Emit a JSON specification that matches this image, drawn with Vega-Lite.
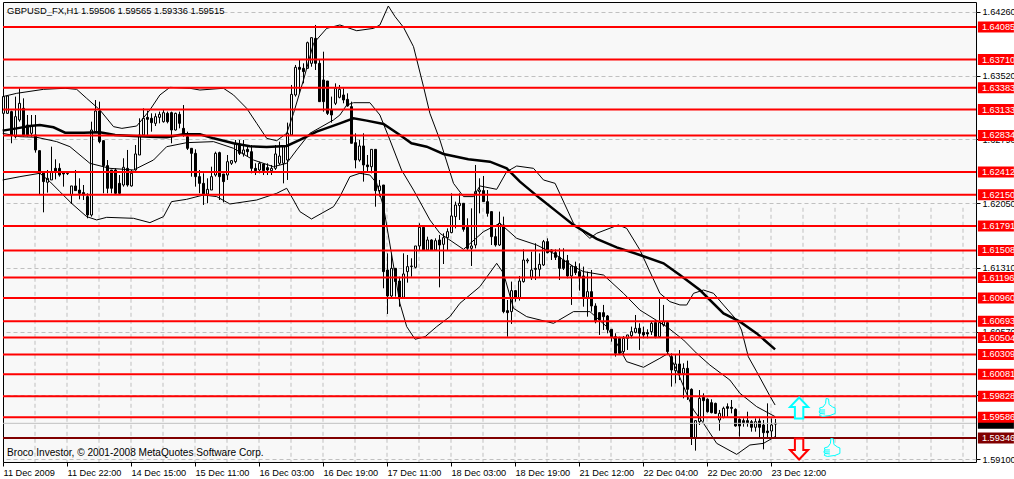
{
  "$schema": "https://vega.github.io/schema/vega-lite/v6.json",
  "width": 973,
  "height": 460,
  "autosize": "none",
  "padding": {"left": 3, "top": 2, "right": 38, "bottom": 17},
  "background": "#ffffff",
  "view": {"fill": "#f8f8f8", "stroke": "#000000", "strokeWidth": 1},
  "config": {
    "font": "Liberation Sans",
    "scale": {"continuousPadding": 0},
    "axis": {"title": null, "domain": false, "tickColor": "#000000", "tickSize": 4, "labelColor": "#000000", "labelFontSize": 9.2, "labelFont": "Liberation Sans"}
  },
  "datasets": {
    "candles": [
      {"i":0,"o":1.63089,"h":1.63301,"l":1.63070,"c":1.63282},
      {"i":1,"o":1.63089,"h":1.63301,"l":1.63082,"c":1.63289},
      {"i":2,"o":1.63109,"h":1.63120,"l":1.62744,"c":1.62840},
      {"i":3,"o":1.62820,"h":1.63282,"l":1.62801,"c":1.63051},
      {"i":4,"o":1.63013,"h":1.63378,"l":1.62993,"c":1.63205},
      {"i":5,"o":1.63147,"h":1.63262,"l":1.62820,"c":1.62840},
      {"i":6,"o":1.62955,"h":1.63070,"l":1.62820,"c":1.62840},
      {"i":7,"o":1.62859,"h":1.63070,"l":1.62820,"c":1.62943},
      {"i":8,"o":1.62840,"h":1.63070,"l":1.62636,"c":1.62667},
      {"i":9,"o":1.62659,"h":1.62659,"l":1.62148,"c":1.62398},
      {"i":10,"o":1.62417,"h":1.62417,"l":1.61948,"c":1.62302},
      {"i":11,"o":1.62294,"h":1.62436,"l":1.62175,"c":1.62340},
      {"i":12,"o":1.62321,"h":1.62705,"l":1.62321,"c":1.62417},
      {"i":13,"o":1.62455,"h":1.62559,"l":1.62328,"c":1.62417},
      {"i":14,"o":1.62455,"h":1.62513,"l":1.62359,"c":1.62378},
      {"i":15,"o":1.62405,"h":1.62417,"l":1.62244,"c":1.62390},
      {"i":16,"o":1.62398,"h":1.62405,"l":1.62378,"c":1.62394},
      {"i":17,"o":1.62148,"h":1.62252,"l":1.62044,"c":1.62252},
      {"i":18,"o":1.62252,"h":1.62436,"l":1.62198,"c":1.62198},
      {"i":19,"o":1.62205,"h":1.62340,"l":1.62098,"c":1.62167},
      {"i":20,"o":1.62175,"h":1.62263,"l":1.62090,"c":1.62148},
      {"i":21,"o":1.62129,"h":1.62167,"l":1.61879,"c":1.61917},
      {"i":22,"o":1.61917,"h":1.62993,"l":1.61898,"c":1.62897},
      {"i":23,"o":1.62878,"h":1.63243,"l":1.62878,"c":1.63116},
      {"i":24,"o":1.63116,"h":1.63224,"l":1.62744,"c":1.62763},
      {"i":25,"o":1.62774,"h":1.62774,"l":1.62167,"c":1.62486},
      {"i":26,"o":1.62486,"h":1.62551,"l":1.62167,"c":1.62225},
      {"i":27,"o":1.62436,"h":1.62436,"l":1.62167,"c":1.62225},
      {"i":28,"o":1.62436,"h":1.62455,"l":1.62159,"c":1.62167},
      {"i":29,"o":1.62282,"h":1.62378,"l":1.62159,"c":1.62167},
      {"i":30,"o":1.62263,"h":1.62571,"l":1.62244,"c":1.62467},
      {"i":31,"o":1.62455,"h":1.62667,"l":1.62244,"c":1.62263},
      {"i":32,"o":1.62252,"h":1.62436,"l":1.62244,"c":1.62398},
      {"i":33,"o":1.62436,"h":1.62724,"l":1.62428,"c":1.62621},
      {"i":34,"o":1.62609,"h":1.63032,"l":1.62609,"c":1.62840},
      {"i":35,"o":1.62840,"h":1.63147,"l":1.62820,"c":1.63032},
      {"i":36,"o":1.63043,"h":1.63120,"l":1.62840,"c":1.63020},
      {"i":37,"o":1.63032,"h":1.63089,"l":1.62878,"c":1.62982},
      {"i":38,"o":1.62974,"h":1.63089,"l":1.62943,"c":1.63051},
      {"i":39,"o":1.63043,"h":1.63109,"l":1.62974,"c":1.63078},
      {"i":40,"o":1.62993,"h":1.63128,"l":1.62982,"c":1.63097},
      {"i":41,"o":1.63089,"h":1.63109,"l":1.62974,"c":1.62993},
      {"i":42,"o":1.63097,"h":1.63109,"l":1.62744,"c":1.62897},
      {"i":43,"o":1.62897,"h":1.63097,"l":1.62890,"c":1.63089},
      {"i":44,"o":1.63078,"h":1.63109,"l":1.62916,"c":1.62974},
      {"i":45,"o":1.62916,"h":1.63185,"l":1.62820,"c":1.62840},
      {"i":46,"o":1.62820,"h":1.62878,"l":1.62667,"c":1.62686},
      {"i":47,"o":1.62686,"h":1.62686,"l":1.62359,"c":1.62628},
      {"i":48,"o":1.62628,"h":1.62674,"l":1.62244,"c":1.62359},
      {"i":49,"o":1.62359,"h":1.62436,"l":1.62167,"c":1.62282},
      {"i":50,"o":1.62282,"h":1.62398,"l":1.62033,"c":1.62159},
      {"i":51,"o":1.62159,"h":1.62340,"l":1.62052,"c":1.62213},
      {"i":52,"o":1.62205,"h":1.62474,"l":1.62205,"c":1.62359},
      {"i":53,"o":1.62378,"h":1.62647,"l":1.62359,"c":1.62628},
      {"i":54,"o":1.62636,"h":1.62647,"l":1.62090,"c":1.62359},
      {"i":55,"o":1.62390,"h":1.62390,"l":1.62063,"c":1.62302},
      {"i":56,"o":1.62378,"h":1.62609,"l":1.62321,"c":1.62532},
      {"i":57,"o":1.62513,"h":1.62551,"l":1.62494,"c":1.62544},
      {"i":58,"o":1.62532,"h":1.62782,"l":1.62513,"c":1.62736},
      {"i":59,"o":1.62736,"h":1.62782,"l":1.62609,"c":1.62628},
      {"i":60,"o":1.62621,"h":1.62782,"l":1.62590,"c":1.62667},
      {"i":61,"o":1.62674,"h":1.62724,"l":1.62590,"c":1.62647},
      {"i":62,"o":1.62647,"h":1.62724,"l":1.62398,"c":1.62455},
      {"i":63,"o":1.62455,"h":1.62513,"l":1.62378,"c":1.62428},
      {"i":64,"o":1.62436,"h":1.62532,"l":1.62398,"c":1.62513},
      {"i":65,"o":1.62505,"h":1.62513,"l":1.62378,"c":1.62428},
      {"i":66,"o":1.62463,"h":1.62513,"l":1.62378,"c":1.62436},
      {"i":67,"o":1.62428,"h":1.62494,"l":1.62378,"c":1.62455},
      {"i":68,"o":1.62455,"h":1.62724,"l":1.62436,"c":1.62621},
      {"i":69,"o":1.62513,"h":1.62763,"l":1.62494,"c":1.62597},
      {"i":70,"o":1.62513,"h":1.62705,"l":1.62282,"c":1.62705},
      {"i":71,"o":1.62551,"h":1.62982,"l":1.62321,"c":1.62859},
      {"i":72,"o":1.62840,"h":1.63416,"l":1.62840,"c":1.63308},
      {"i":73,"o":1.63301,"h":1.63647,"l":1.63282,"c":1.63620},
      {"i":74,"o":1.63620,"h":1.63704,"l":1.63320,"c":1.63597},
      {"i":75,"o":1.63608,"h":1.63666,"l":1.63435,"c":1.63570},
      {"i":76,"o":1.63608,"h":1.63916,"l":1.63608,"c":1.63904},
      {"i":77,"o":1.63666,"h":1.63962,"l":1.63627,"c":1.63962},
      {"i":78,"o":1.63954,"h":1.64108,"l":1.63589,"c":1.63666},
      {"i":79,"o":1.63666,"h":1.63704,"l":1.63224,"c":1.63224},
      {"i":80,"o":1.63474,"h":1.63800,"l":1.63109,"c":1.63224},
      {"i":81,"o":1.63462,"h":1.63462,"l":1.63070,"c":1.63089},
      {"i":82,"o":1.63128,"h":1.63282,"l":1.62982,"c":1.63070},
      {"i":83,"o":1.63205,"h":1.63435,"l":1.63185,"c":1.63378},
      {"i":84,"o":1.63274,"h":1.63416,"l":1.63262,"c":1.63366},
      {"i":85,"o":1.63301,"h":1.63378,"l":1.63205,"c":1.63243},
      {"i":86,"o":1.63251,"h":1.63320,"l":1.63166,"c":1.63174},
      {"i":87,"o":1.63166,"h":1.63224,"l":1.62744,"c":1.62744},
      {"i":88,"o":1.62751,"h":1.62859,"l":1.62455,"c":1.62551},
      {"i":89,"o":1.62551,"h":1.62782,"l":1.62532,"c":1.62713},
      {"i":90,"o":1.62713,"h":1.62859,"l":1.62302,"c":1.62494},
      {"i":91,"o":1.62494,"h":1.62609,"l":1.62417,"c":1.62474},
      {"i":92,"o":1.62474,"h":1.62674,"l":1.62398,"c":1.62674},
      {"i":93,"o":1.62674,"h":1.62674,"l":1.62013,"c":1.62198},
      {"i":94,"o":1.62198,"h":1.62321,"l":1.62129,"c":1.62252},
      {"i":95,"o":1.62263,"h":1.62263,"l":1.61072,"c":1.61264},
      {"i":96,"o":1.61283,"h":1.61475,"l":1.60776,"c":1.60983},
      {"i":97,"o":1.60983,"h":1.61475,"l":1.60968,"c":1.61302},
      {"i":98,"o":1.61302,"h":1.61302,"l":1.60976,"c":1.61149},
      {"i":99,"o":1.61156,"h":1.61206,"l":1.60860,"c":1.60968},
      {"i":100,"o":1.60968,"h":1.61475,"l":1.60968,"c":1.61237},
      {"i":101,"o":1.61264,"h":1.61456,"l":1.61137,"c":1.61322},
      {"i":102,"o":1.61322,"h":1.61418,"l":1.61206,"c":1.61329},
      {"i":103,"o":1.61314,"h":1.61560,"l":1.61302,"c":1.61560},
      {"i":104,"o":1.61560,"h":1.61821,"l":1.61514,"c":1.61775},
      {"i":105,"o":1.61775,"h":1.61775,"l":1.61514,"c":1.61514},
      {"i":106,"o":1.61514,"h":1.61667,"l":1.61506,"c":1.61629},
      {"i":107,"o":1.61629,"h":1.61637,"l":1.61506,"c":1.61514},
      {"i":108,"o":1.61514,"h":1.61648,"l":1.61506,"c":1.61621},
      {"i":109,"o":1.61629,"h":1.61687,"l":1.61083,"c":1.61571},
      {"i":110,"o":1.61579,"h":1.61706,"l":1.61352,"c":1.61656},
      {"i":111,"o":1.61656,"h":1.61763,"l":1.61514,"c":1.61725},
      {"i":112,"o":1.61714,"h":1.62167,"l":1.61706,"c":1.61906},
      {"i":113,"o":1.61898,"h":1.62071,"l":1.61763,"c":1.62032},
      {"i":114,"o":1.62025,"h":1.62167,"l":1.61860,"c":1.62052},
      {"i":115,"o":1.62052,"h":1.62052,"l":1.61725,"c":1.61752},
      {"i":116,"o":1.61775,"h":1.61879,"l":1.61514,"c":1.61533},
      {"i":117,"o":1.61533,"h":1.61994,"l":1.61329,"c":1.61560},
      {"i":118,"o":1.61571,"h":1.62494,"l":1.61533,"c":1.62186},
      {"i":119,"o":1.62186,"h":1.62340,"l":1.61936,"c":1.62205},
      {"i":120,"o":1.62198,"h":1.62367,"l":1.62071,"c":1.62071},
      {"i":121,"o":1.62071,"h":1.62205,"l":1.61898,"c":1.61936},
      {"i":122,"o":1.61956,"h":1.61956,"l":1.61571,"c":1.61667},
      {"i":123,"o":1.61667,"h":1.61763,"l":1.61552,"c":1.61571},
      {"i":124,"o":1.61571,"h":1.61956,"l":1.61560,"c":1.61821},
      {"i":125,"o":1.61802,"h":1.61898,"l":1.60784,"c":1.60803},
      {"i":126,"o":1.60814,"h":1.60937,"l":1.60514,"c":1.60791},
      {"i":127,"o":1.60803,"h":1.61149,"l":1.60661,"c":1.61045},
      {"i":128,"o":1.61045,"h":1.61053,"l":1.60918,"c":1.60956},
      {"i":129,"o":1.60956,"h":1.61214,"l":1.60930,"c":1.61156},
      {"i":130,"o":1.61149,"h":1.61521,"l":1.61137,"c":1.61398},
      {"i":131,"o":1.61387,"h":1.61418,"l":1.61360,"c":1.61398},
      {"i":132,"o":1.61199,"h":1.61494,"l":1.61168,"c":1.61283},
      {"i":133,"o":1.61302,"h":1.61591,"l":1.61168,"c":1.61291},
      {"i":134,"o":1.61291,"h":1.61475,"l":1.61206,"c":1.61348},
      {"i":135,"o":1.61341,"h":1.61629,"l":1.61329,"c":1.61610},
      {"i":136,"o":1.61610,"h":1.61648,"l":1.61475,"c":1.61483},
      {"i":137,"o":1.61514,"h":1.61521,"l":1.61398,"c":1.61494},
      {"i":138,"o":1.61483,"h":1.61521,"l":1.61398,"c":1.61429},
      {"i":139,"o":1.61429,"h":1.61533,"l":1.61168,"c":1.61302},
      {"i":140,"o":1.61398,"h":1.61533,"l":1.61283,"c":1.61302},
      {"i":141,"o":1.61391,"h":1.61456,"l":1.61187,"c":1.61214},
      {"i":142,"o":1.61214,"h":1.61341,"l":1.60880,"c":1.61329},
      {"i":143,"o":1.61322,"h":1.61379,"l":1.61225,"c":1.61252},
      {"i":144,"o":1.61264,"h":1.61360,"l":1.61045,"c":1.61206},
      {"i":145,"o":1.61214,"h":1.61322,"l":1.60860,"c":1.60976},
      {"i":146,"o":1.60968,"h":1.61264,"l":1.60745,"c":1.61033},
      {"i":147,"o":1.61033,"h":1.61283,"l":1.60803,"c":1.60868},
      {"i":148,"o":1.60868,"h":1.60899,"l":1.60668,"c":1.60687},
      {"i":149,"o":1.60791,"h":1.60791,"l":1.60534,"c":1.60707},
      {"i":150,"o":1.60791,"h":1.60880,"l":1.60591,"c":1.60745},
      {"i":151,"o":1.60753,"h":1.60764,"l":1.60553,"c":1.60599},
      {"i":152,"o":1.60599,"h":1.60599,"l":1.60457,"c":1.60514},
      {"i":153,"o":1.60514,"h":1.60553,"l":1.60284,"c":1.60322},
      {"i":154,"o":1.60495,"h":1.60514,"l":1.60303,"c":1.60322},
      {"i":155,"o":1.60342,"h":1.60522,"l":1.60303,"c":1.60495},
      {"i":156,"o":1.60495,"h":1.60534,"l":1.60361,"c":1.60534},
      {"i":157,"o":1.60526,"h":1.60630,"l":1.60495,"c":1.60572},
      {"i":158,"o":1.60564,"h":1.60764,"l":1.60553,"c":1.60611},
      {"i":159,"o":1.60611,"h":1.60668,"l":1.60361,"c":1.60553},
      {"i":160,"o":1.60564,"h":1.60630,"l":1.60495,"c":1.60534},
      {"i":161,"o":1.60561,"h":1.60599,"l":1.60495,"c":1.60545},
      {"i":162,"o":1.60572,"h":1.60687,"l":1.60534,"c":1.60668},
      {"i":163,"o":1.60676,"h":1.60707,"l":1.60495,"c":1.60514},
      {"i":164,"o":1.60514,"h":1.60956,"l":1.60514,"c":1.60676},
      {"i":165,"o":1.60649,"h":1.60880,"l":1.60630,"c":1.60687},
      {"i":166,"o":1.60676,"h":1.60687,"l":1.60303,"c":1.60342},
      {"i":167,"o":1.60284,"h":1.60322,"l":1.59938,"c":1.60130},
      {"i":168,"o":1.60122,"h":1.60303,"l":1.59976,"c":1.60199},
      {"i":169,"o":1.60199,"h":1.60360,"l":1.60014,"c":1.60084},
      {"i":170,"o":1.60091,"h":1.60207,"l":1.59803,"c":1.60149},
      {"i":171,"o":1.60149,"h":1.60237,"l":1.59784,"c":1.59907},
      {"i":172,"o":1.59907,"h":1.59918,"l":1.59265,"c":1.59350},
      {"i":173,"o":1.59350,"h":1.59553,"l":1.59200,"c":1.59546},
      {"i":174,"o":1.59534,"h":1.59899,"l":1.59496,"c":1.59803},
      {"i":175,"o":1.59815,"h":1.59861,"l":1.59534,"c":1.59776},
      {"i":176,"o":1.59792,"h":1.59803,"l":1.59638,"c":1.59649},
      {"i":177,"o":1.59753,"h":1.59792,"l":1.59630,"c":1.59638},
      {"i":178,"o":1.59745,"h":1.59753,"l":1.59622,"c":1.59630},
      {"i":179,"o":1.59553,"h":1.59669,"l":1.59430,"c":1.59630},
      {"i":180,"o":1.59584,"h":1.59707,"l":1.59572,"c":1.59688},
      {"i":181,"o":1.59707,"h":1.59745,"l":1.59592,"c":1.59688},
      {"i":182,"o":1.59699,"h":1.59784,"l":1.59630,"c":1.59688},
      {"i":183,"o":1.59676,"h":1.59688,"l":1.59476,"c":1.59484},
      {"i":184,"o":1.59561,"h":1.59572,"l":1.59361,"c":1.59484},
      {"i":185,"o":1.59546,"h":1.59572,"l":1.59476,"c":1.59522},
      {"i":186,"o":1.59546,"h":1.59649,"l":1.59476,"c":1.59522},
      {"i":187,"o":1.59534,"h":1.59553,"l":1.59419,"c":1.59469},
      {"i":188,"o":1.59469,"h":1.59572,"l":1.59419,"c":1.59534},
      {"i":189,"o":1.59542,"h":1.59572,"l":1.59353,"c":1.59469},
      {"i":190,"o":1.59496,"h":1.59553,"l":1.59215,"c":1.59407},
      {"i":191,"o":1.59426,"h":1.59745,"l":1.59342,"c":1.59407},
      {"i":192,"o":1.59426,"h":1.59572,"l":1.59342,"c":1.59496},
      {"i":193,"o":1.59506,"h":1.59565,"l":1.59336,"c":1.59515}
    ],
    "ma": [
      {"i":-0.2,"p":1.62890},{"i":3.3,"p":1.62916},{"i":6.6,"p":1.62943},{"i":9.1,"p":1.62955},{"i":12.5,"p":1.62928},
      {"i":15.4,"p":1.62866},{"i":20,"p":1.62866},{"i":24.1,"p":1.62870},{"i":27.9,"p":1.62840},{"i":32.5,"p":1.62828},
      {"i":36.6,"p":1.62820},{"i":40.8,"p":1.62813},{"i":45,"p":1.62847},{"i":49.1,"p":1.62847},{"i":52.5,"p":1.62801},
      {"i":57.5,"p":1.62744},{"i":61.6,"p":1.62709},{"i":65.8,"p":1.62701},{"i":70.8,"p":1.62713},{"i":74.1,"p":1.62782},
      {"i":78.3,"p":1.62878},{"i":84.1,"p":1.62974},{"i":87.5,"p":1.63032},{"i":90.8,"p":1.63005},{"i":95,"p":1.62966},
      {"i":99.1,"p":1.62840},{"i":102,"p":1.62744},{"i":105.8,"p":1.62705},{"i":110,"p":1.62621},{"i":116.2,"p":1.62559},
      {"i":121.6,"p":1.62532},{"i":125.8,"p":1.62455},{"i":129.1,"p":1.62302},{"i":134.1,"p":1.62109},{"i":138.3,"p":1.61956},
      {"i":142.5,"p":1.61802},{"i":148.3,"p":1.61641},{"i":153.3,"p":1.61544},{"i":159.1,"p":1.61456},{"i":165,"p":1.61360},
      {"i":169.1,"p":1.61225},{"i":174.1,"p":1.61052},{"i":180,"p":1.60783},{"i":184.1,"p":1.60687},{"i":188.3,"p":1.60552},
      {"i":192.9,"p":1.60368}
    ],
    "bands": [
      {"s":"upper","i":-0.2,"p":1.63282},{"s":"upper","i":3.3,"p":1.63320},{"s":"upper","i":10,"p":1.63366},{"s":"upper","i":15.4,"p":1.63378},
      {"s":"upper","i":18.3,"p":1.63366},{"s":"upper","i":20.8,"p":1.63262},{"s":"upper","i":24.1,"p":1.63128},{"s":"upper","i":27.5,"p":1.62936},
      {"s":"upper","i":29.6,"p":1.62916},{"s":"upper","i":33.3,"p":1.62943},{"s":"upper","i":36.6,"p":1.63128},{"s":"upper","i":39.1,"p":1.63301},
      {"s":"upper","i":41.6,"p":1.63389},{"s":"upper","i":46.6,"p":1.63378},{"s":"upper","i":49.1,"p":1.63358},{"s":"upper","i":55,"p":1.63378},
      {"s":"upper","i":57.5,"p":1.63301},{"s":"upper","i":60.8,"p":1.63147},{"s":"upper","i":63.3,"p":1.62974},{"s":"upper","i":65.8,"p":1.62801},
      {"s":"upper","i":68.3,"p":1.62774},{"s":"upper","i":70.8,"p":1.62859},{"s":"upper","i":72.5,"p":1.63089},{"s":"upper","i":75,"p":1.63474},
      {"s":"upper","i":77.5,"p":1.63896},{"s":"upper","i":80.8,"p":1.64069},{"s":"upper","i":84.1,"p":1.64108},{"s":"upper","i":88.3,"p":1.64042},
      {"s":"upper","i":92.5,"p":1.64069},{"s":"upper","i":94.1,"p":1.64108},{"s":"upper","i":96.2,"p":1.64327},{"s":"upper","i":97.9,"p":1.64204},
      {"s":"upper","i":100,"p":1.64081},{"s":"upper","i":102.5,"p":1.63858},{"s":"upper","i":105,"p":1.63397},{"s":"upper","i":106.6,"p":1.63089},
      {"s":"upper","i":109.1,"p":1.62782},{"s":"upper","i":112.5,"p":1.62282},{"s":"upper","i":115,"p":1.62129},{"s":"upper","i":117.5,"p":1.62129},
      {"s":"upper","i":119.1,"p":1.62252},{"s":"upper","i":123.3,"p":1.62213},{"s":"upper","i":125.8,"p":1.62417},{"s":"upper","i":128.3,"p":1.62482},
      {"s":"upper","i":132.5,"p":1.62455},{"s":"upper","i":135,"p":1.62321},{"s":"upper","i":137.9,"p":1.62282},{"s":"upper","i":142.5,"p":1.61821},
      {"s":"upper","i":146.6,"p":1.61648},{"s":"upper","i":148.3,"p":1.61706},{"s":"upper","i":153.7,"p":1.61802},{"s":"upper","i":155.8,"p":1.61763},
      {"s":"upper","i":159.1,"p":1.61514},{"s":"upper","i":164.1,"p":1.61014},{"s":"upper","i":166.6,"p":1.60918},{"s":"upper","i":169.1,"p":1.60880},
      {"s":"upper","i":170.8,"p":1.60879},{"s":"upper","i":172.5,"p":1.61014},{"s":"upper","i":175,"p":1.61052},{"s":"upper","i":177.5,"p":1.61014},
      {"s":"upper","i":180,"p":1.60879},{"s":"upper","i":183.3,"p":1.60706},{"s":"upper","i":184.5,"p":1.60591},{"s":"upper","i":186.2,"p":1.60283},
      {"s":"upper","i":188.3,"p":1.60110},{"s":"upper","i":191.6,"p":1.59830},{"s":"upper","i":192.9,"p":1.59726},
      {"s":"middle","i":-0.2,"p":1.62859},{"s":"middle","i":4.1,"p":1.62820},{"s":"middle","i":8.3,"p":1.62813},{"s":"middle","i":13.3,"p":1.62763},
      {"s":"middle","i":16.6,"p":1.62705},{"s":"middle","i":21.6,"p":1.62513},{"s":"middle","i":26.6,"p":1.62455},{"s":"middle","i":32.5,"p":1.62436},
      {"s":"middle","i":37.5,"p":1.62551},{"s":"middle","i":40.8,"p":1.62705},{"s":"middle","i":45.8,"p":1.62751},{"s":"middle","i":52.5,"p":1.62763},
      {"s":"middle","i":57.5,"p":1.62686},{"s":"middle","i":62.5,"p":1.62551},{"s":"middle","i":67.5,"p":1.62474},{"s":"middle","i":70.8,"p":1.62513},
      {"s":"middle","i":73.3,"p":1.62667},{"s":"middle","i":76.6,"p":1.62859},{"s":"middle","i":82.5,"p":1.63013},{"s":"middle","i":84.1,"p":1.63070},
      {"s":"middle","i":85.8,"p":1.63185},{"s":"middle","i":87.5,"p":1.63212},{"s":"middle","i":91.6,"p":1.63212},{"s":"middle","i":94.1,"p":1.63070},
      {"s":"middle","i":96.6,"p":1.62782},{"s":"middle","i":99.5,"p":1.62436},{"s":"middle","i":102.5,"p":1.62205},{"s":"middle","i":106.6,"p":1.61860},
      {"s":"middle","i":109.1,"p":1.61706},{"s":"middle","i":115,"p":1.61521},{"s":"middle","i":120,"p":1.61725},{"s":"middle","i":124.1,"p":1.61821},
      {"s":"middle","i":128.3,"p":1.61648},{"s":"middle","i":133.3,"p":1.61571},{"s":"middle","i":137.5,"p":1.61475},{"s":"middle","i":142.5,"p":1.61322},
      {"s":"middle","i":145,"p":1.61264},{"s":"middle","i":150,"p":1.61225},{"s":"middle","i":155,"p":1.61014},{"s":"middle","i":159.1,"p":1.60821},
      {"s":"middle","i":165.8,"p":1.60629},{"s":"middle","i":170,"p":1.60476},{"s":"middle","i":173.3,"p":1.60322},{"s":"middle","i":176.6,"p":1.60187},
      {"s":"middle","i":181.6,"p":1.60014},{"s":"middle","i":184.1,"p":1.59861},{"s":"middle","i":188.3,"p":1.59707},{"s":"middle","i":192.9,"p":1.59592},
      {"s":"lower","i":-0.2,"p":1.62321},{"s":"lower","i":4.1,"p":1.62359},{"s":"lower","i":9.1,"p":1.62398},{"s":"lower","i":11.6,"p":1.62302},
      {"s":"lower","i":14.1,"p":1.62186},{"s":"lower","i":17,"p":1.62052},{"s":"lower","i":20.8,"p":1.61898},{"s":"lower","i":23.3,"p":1.61860},
      {"s":"lower","i":25.8,"p":1.61890},{"s":"lower","i":32.5,"p":1.61879},{"s":"lower","i":36.6,"p":1.61829},{"s":"lower","i":40,"p":1.61898},
      {"s":"lower","i":42,"p":1.62071},{"s":"lower","i":45.8,"p":1.62098},{"s":"lower","i":50,"p":1.62148},{"s":"lower","i":53.3,"p":1.62129},
      {"s":"lower","i":56.6,"p":1.62044},{"s":"lower","i":63.3,"p":1.62090},{"s":"lower","i":68.3,"p":1.62167},{"s":"lower","i":70.8,"p":1.62225},
      {"s":"lower","i":72.5,"p":1.62090},{"s":"lower","i":74.1,"p":1.61956},{"s":"lower","i":77,"p":1.61871},{"s":"lower","i":82.5,"p":1.62013},
      {"s":"lower","i":84.1,"p":1.62129},{"s":"lower","i":86.6,"p":1.62359},{"s":"lower","i":89.1,"p":1.62398},{"s":"lower","i":91.6,"p":1.62378},
      {"s":"lower","i":93.3,"p":1.62282},{"s":"lower","i":95,"p":1.62013},{"s":"lower","i":99.1,"p":1.60899},{"s":"lower","i":100.8,"p":1.60630},
      {"s":"lower","i":102.9,"p":1.60484},{"s":"lower","i":105.4,"p":1.60514},{"s":"lower","i":108.3,"p":1.60630},{"s":"lower","i":111.6,"p":1.60745},
      {"s":"lower","i":114.1,"p":1.60899},{"s":"lower","i":119.1,"p":1.61091},{"s":"lower","i":123.3,"p":1.61360},{"s":"lower","i":125,"p":1.61245},
      {"s":"lower","i":127.5,"p":1.60841},{"s":"lower","i":130.8,"p":1.60745},{"s":"lower","i":137.5,"p":1.60668},{"s":"lower","i":142.5,"p":1.60803},
      {"s":"lower","i":146.6,"p":1.60803},{"s":"lower","i":150.8,"p":1.60630},{"s":"lower","i":153.3,"p":1.60438},{"s":"lower","i":155.8,"p":1.60226},
      {"s":"lower","i":160,"p":1.60161},{"s":"lower","i":164.1,"p":1.60265},{"s":"lower","i":166.2,"p":1.60322},{"s":"lower","i":168.3,"p":1.60130},
      {"s":"lower","i":172.5,"p":1.59669},{"s":"lower","i":175,"p":1.59515},{"s":"lower","i":178.3,"p":1.59284},{"s":"lower","i":183.3,"p":1.59157},
      {"s":"lower","i":186.6,"p":1.59265},{"s":"lower","i":190,"p":1.59284},{"s":"lower","i":192.9,"p":1.59361}
    ],
    "levels": [
      {"p":1.64085,"k":"r"},{"p":1.63710,"k":"r"},{"p":1.63383,"k":"r"},{"p":1.63133,"k":"r"},{"p":1.62834,"k":"r"},
      {"p":1.62412,"k":"r"},{"p":1.62150,"k":"r"},{"p":1.61791,"k":"r"},{"p":1.61508,"k":"r"},{"p":1.61196,"k":"r"},
      {"p":1.60960,"k":"r"},{"p":1.60693,"k":"r"},{"p":1.60504,"k":"r"},{"p":1.60309,"k":"r"},{"p":1.60081,"k":"r"},
      {"p":1.59828,"k":"r"},{"p":1.59586,"k":"r"},{"p":1.59346,"k":"d"}
    ],
    "vgrid": [
      {"i":7.875},{"i":15.875},{"i":23.875},{"i":31.875},{"i":39.875},{"i":47.875},{"i":55.875},{"i":63.875},{"i":71.875},
      {"i":79.875},{"i":87.875},{"i":95.875},{"i":103.875},{"i":111.875},{"i":119.875},{"i":127.875},{"i":135.875},{"i":143.875},
      {"i":151.875},{"i":159.875},{"i":167.875},{"i":175.875},{"i":183.875},{"i":191.875},{"i":199.875},{"i":207.875},{"i":215.875},
      {"i":223.875},{"i":231.875},{"i":239.875}
    ]
  },
  "layer": [
    {
      "data": {"name": "vgrid"},
      "mark": {"type": "rule", "color": "#c0c0c0", "strokeDash": [4, 3], "strokeWidth": 1},
      "encoding": {
        "x": {
          "field": "i", "type": "quantitative",
          "scale": {"domain": [-0.125, 243.125], "nice": false, "zero": false},
          "axis": {
            "orient": "bottom", "grid": false, "labelAlign": "left", "labelPadding": 2, "labelFlush": false, "labelOverlap": false,
            "values": [-0.125, 15.875, 31.875, 47.875, 63.875, 79.875, 95.875, 111.875, 127.875, 143.875, 159.875, 175.875, 191.875],
            "labelExpr": "['11 Dec 2009','11 Dec 22:00','14 Dec 15:00','15 Dec 11:00','16 Dec 03:00','16 Dec 19:00','17 Dec 11:00','18 Dec 03:00','18 Dec 19:00','21 Dec 12:00','22 Dec 04:00','22 Dec 20:00','23 Dec 12:00'][round((datum.value + 0.125) / 16)]"
          }
        },
        "y": {
          "datum": 1.62, "type": "quantitative",
          "scale": {"domain": [1.59069, 1.64373], "nice": false, "zero": false},
          "axis": {
            "orient": "right", "format": ".5f", "grid": true, "gridColor": "#c0c0c0", "gridDash": [4, 3], "labelAlign": "left", "labelPadding": 2, "labelOverlap": false, "labelFlush": false,
            "values": [1.6426, 1.6389, 1.6352, 1.6315, 1.6279, 1.6242, 1.6205, 1.6168, 1.6131, 1.6094, 1.6057, 1.602, 1.5984, 1.5947, 1.591]
          }
        }
      }
    },
    {
      "data": {"name": "candles"},
      "mark": {"type": "rule", "color": "#000000", "strokeWidth": 1},
      "encoding": {
        "x": {"field": "i", "type": "quantitative", "scale": {"domain": [-0.125, 243.125], "nice": false, "zero": false}},
        "y": {"field": "l", "type": "quantitative", "scale": {"domain": [1.59069, 1.64373], "nice": false, "zero": false}},
        "y2": {"field": "h"}
      }
    },
    {
      "data": {"name": "candles"},
      "mark": {"type": "bar", "size": 2, "stroke": "#000000", "strokeWidth": 1},
      "encoding": {
        "x": {"field": "i", "type": "quantitative", "scale": {"domain": [-0.125, 243.125], "nice": false, "zero": false}},
        "y": {"field": "o", "type": "quantitative", "scale": {"domain": [1.59069, 1.64373], "nice": false, "zero": false}},
        "y2": {"field": "c"},
        "fill": {"condition": {"test": "datum.c >= datum.o", "value": "#f8f8f8"}, "value": "#000000"}
      }
    },
    {
      "data": {"name": "bands"},
      "mark": {"type": "line", "color": "#000000", "strokeWidth": 1},
      "encoding": {
        "x": {"field": "i", "type": "quantitative", "scale": {"domain": [-0.125, 243.125], "nice": false, "zero": false}},
        "y": {"field": "p", "type": "quantitative", "scale": {"domain": [1.59069, 1.64373], "nice": false, "zero": false}},
        "detail": {"field": "s"}
      }
    },
    {
      "data": {"name": "ma"},
      "mark": {"type": "line", "color": "#000000", "strokeWidth": 2.5},
      "encoding": {
        "x": {"field": "i", "type": "quantitative", "scale": {"domain": [-0.125, 243.125], "nice": false, "zero": false}},
        "y": {"field": "p", "type": "quantitative", "scale": {"domain": [1.59069, 1.64373], "nice": false, "zero": false}}
      }
    },
    {
      "data": {"values": [{"p": 1.59515}]},
      "mark": {"type": "rule", "color": "#c0c0c0", "strokeWidth": 1},
      "encoding": {
        "y": {"field": "p", "type": "quantitative", "scale": {"domain": [1.59069, 1.64373], "nice": false, "zero": false}}
      }
    },
    {
      "data": {"name": "levels"},
      "mark": {"type": "rule", "strokeWidth": 2},
      "encoding": {
        "y": {"field": "p", "type": "quantitative", "scale": {"domain": [1.59069, 1.64373], "nice": false, "zero": false}},
        "color": {"field": "k", "type": "nominal", "scale": {"domain": ["r", "d"], "range": ["#ff0000", "#800000"]}, "legend": null}
      }
    },
    {
      "data": {"values": [{"p": 1.59515}]},
      "mark": {"type": "bar", "orient": "horizontal", "size": 11, "color": "#000000"},
      "encoding": {
        "x": {"datum": 243.6, "type": "quantitative", "scale": {"domain": [-0.125, 243.125], "nice": false, "zero": false}},
        "x2": {"datum": 252.6},
        "y": {"field": "p", "type": "quantitative", "scale": {"domain": [1.59069, 1.64373], "nice": false, "zero": false}}
      }
    },
    {
      "data": {"name": "levels"},
      "mark": {"type": "bar", "orient": "horizontal", "size": 11},
      "encoding": {
        "x": {"datum": 243.6, "type": "quantitative", "scale": {"domain": [-0.125, 243.125], "nice": false, "zero": false}},
        "x2": {"datum": 252.6},
        "y": {"field": "p", "type": "quantitative", "scale": {"domain": [1.59069, 1.64373], "nice": false, "zero": false}},
        "color": {"field": "k", "type": "nominal", "scale": {"domain": ["r", "d"], "range": ["#ff0000", "#800000"]}, "legend": null}
      }
    },
    {
      "data": {"name": "levels"},
      "mark": {"type": "text", "align": "left", "baseline": "middle", "color": "#ffffff", "fontSize": 9.2, "font": "Liberation Sans"},
      "encoding": {
        "x": {"datum": 244.6, "type": "quantitative", "scale": {"domain": [-0.125, 243.125], "nice": false, "zero": false}},
        "y": {"field": "p", "type": "quantitative", "scale": {"domain": [1.59069, 1.64373], "nice": false, "zero": false}},
        "text": {"field": "p", "type": "quantitative", "format": ".5f"}
      }
    },
    {
      "data": {"values": [{"i": 198.9, "p": 1.59692}]},
      "mark": {"type": "point", "filled": false, "size": 441, "stroke": "#00ffff", "strokeWidth": 2, "fill": "#f8f8f8", "fillOpacity": 1, "shape": "M0,-1 L0.86,-0.1 L0.4,-0.1 L0.4,1 L-0.4,1 L-0.4,-0.1 L-0.86,-0.1 Z"},
      "encoding": {
        "x": {"field": "i", "type": "quantitative", "scale": {"domain": [-0.125, 243.125], "nice": false, "zero": false}},
        "y": {"field": "p", "type": "quantitative", "scale": {"domain": [1.59069, 1.64373], "nice": false, "zero": false}}
      }
    },
    {
      "data": {"values": [{"i": 198.9, "p": 1.59219}]},
      "mark": {"type": "point", "filled": false, "size": 441, "stroke": "#ff0000", "strokeWidth": 2, "fill": "#f8f8f8", "fillOpacity": 1, "shape": "M0,1 L0.86,0.1 L0.4,0.1 L0.4,-1 L-0.4,-1 L-0.4,0.1 L-0.86,0.1 Z"},
      "encoding": {
        "x": {"field": "i", "type": "quantitative", "scale": {"domain": [-0.125, 243.125], "nice": false, "zero": false}},
        "y": {"field": "p", "type": "quantitative", "scale": {"domain": [1.59069, 1.64373], "nice": false, "zero": false}}
      }
    },
    {
      "data": {"values": [{"i": 205.9, "p": 1.59692}, {"i": 207.1, "p": 1.59231}]},
      "mark": {"type": "point", "filled": false, "size": 400, "stroke": "#00ffff", "strokeWidth": 1, "fill": "#f8f8f8", "fillOpacity": 1, "shape": "M-0.1,-0.95 L0.15,-0.9 L0.2,-0.35 L0.55,-0.1 L0.8,0 L0.8,0.55 L0.3,0.75 L-0.45,0.85 L-0.75,0.75 L-0.7,0.55 L-0.8,0.4 L-0.7,0.2 L-0.75,0 L-0.4,-0.1 L-0.15,-0.45 Z M-0.7,0.2 L-0.2,0.2 M-0.8,0.4 L-0.2,0.4 M-0.7,0.55 L-0.2,0.6"},
      "encoding": {
        "x": {"field": "i", "type": "quantitative", "scale": {"domain": [-0.125, 243.125], "nice": false, "zero": false}},
        "y": {"field": "p", "type": "quantitative", "scale": {"domain": [1.59069, 1.64373], "nice": false, "zero": false}}
      }
    },
    {
      "data": {"values": [{"t": "GBPUSD_FX,H1  1.59506 1.59565 1.59336 1.59515"}]},
      "mark": {"type": "text", "align": "left", "baseline": "middle", "color": "#000000", "fontSize": 9.4, "font": "Liberation Sans"},
      "encoding": {
        "x": {"datum": 0.9, "type": "quantitative", "scale": {"domain": [-0.125, 243.125], "nice": false, "zero": false}},
        "y": {"datum": 1.64269, "type": "quantitative", "scale": {"domain": [1.59069, 1.64373], "nice": false, "zero": false}},
        "text": {"field": "t"}
      }
    },
    {
      "data": {"values": [{"t": "Broco Investor, © 2001-2008 MetaQuotes Software Corp."}]},
      "mark": {"type": "text", "align": "left", "baseline": "middle", "color": "#000000", "fontSize": 10.1, "font": "Liberation Sans"},
      "encoding": {
        "x": {"datum": 0.9, "type": "quantitative", "scale": {"domain": [-0.125, 243.125], "nice": false, "zero": false}},
        "y": {"datum": 1.59173, "type": "quantitative", "scale": {"domain": [1.59069, 1.64373], "nice": false, "zero": false}},
        "text": {"field": "t"}
      }
    }
  ]
}
